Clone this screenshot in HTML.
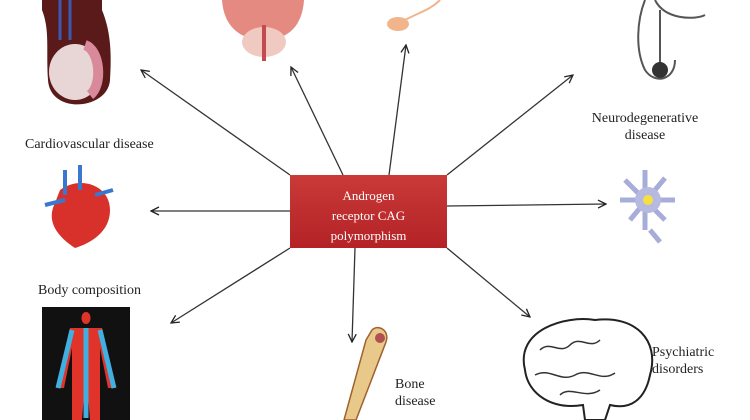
<!DOCTYPE html>
<html><head><style>
body{margin:0;background:#fff;width:750px;height:420px;overflow:hidden;font-family:"Liberation Serif",serif;}
.t{position:absolute;font-size:14px;color:#222;line-height:17px}
</style></head><body>
<svg width="750" height="420" style="position:absolute;left:0;top:0">
<defs><marker id="a" markerWidth="10" markerHeight="10" refX="9" refY="5" orient="auto" markerUnits="userSpaceOnUse"><path d="M1,1 L9,5 L1,9" fill="none" stroke="#222" stroke-width="1.3"/></marker>
<linearGradient id="g" x1="0" y1="0" x2="0" y2="1"><stop offset="0" stop-color="#c93a38"/><stop offset="1" stop-color="#b42226"/></linearGradient></defs>
<g stroke="#333" stroke-width="1.3" fill="none" marker-end="url(#a)">
<line x1="290" y1="175" x2="141" y2="70"/>
<line x1="343" y1="175" x2="291" y2="67"/>
<line x1="389" y1="175" x2="406" y2="45"/>
<line x1="447" y1="175" x2="573" y2="75"/>
<line x1="447" y1="206" x2="606" y2="204"/>
<line x1="290" y1="211" x2="151" y2="211"/>
<line x1="290" y1="248" x2="171" y2="323"/>
<line x1="355" y1="248" x2="352" y2="342"/>
<line x1="447" y1="248" x2="530" y2="317"/>
</g>
<rect x="290" y="175" width="157" height="73" fill="url(#g)"/>
<!-- testis -->
<path d="M42,0 h60 v10 c8,20 10,40 8,70 c-2,30 -60,35 -62,0 c-2,-30 2,-50 -6,-70z" fill="#5a1a1a"/>
<ellipse cx="75" cy="72" rx="26" ry="28" fill="#e8d6d6"/>
<path d="M85,45 c15,5 18,40 5,50" stroke="#d88a9a" stroke-width="10" fill="none"/>
<path d="M60,0 v40 M70,0 v40" stroke="#3a5ab0" stroke-width="3"/>
<!-- prostate -->
<path d="M222,0 h82 c-2,30 -20,40 -40,40 c-20,0 -40,-10 -42,-40z" fill="#e58a80"/>
<ellipse cx="264" cy="42" rx="22" ry="15" fill="#f0c9c0"/>
<rect x="262" y="25" width="4" height="36" fill="#c54a50"/>
<!-- sperm -->
<ellipse cx="398" cy="24" rx="11" ry="7" fill="#f2b48a"/>
<path d="M405,20 c15,-8 25,-10 35,-20" stroke="#f2b48a" stroke-width="2" fill="none"/>
<!-- pelvis drawing -->
<path d="M645,0 c-8,20 -10,50 0,70 c10,15 30,10 30,-10 M655,0 c10,20 40,20 50,15 M660,10 v60" stroke="#555" stroke-width="2" fill="none"/>
<circle cx="660" cy="70" r="8" fill="#333"/>
<!-- heart -->
<path d="M60,190 c20,-15 50,-5 50,20 c0,25 -25,35 -35,38 c-15,-10 -30,-25 -20,-45z" fill="#d8302a"/>
<path d="M65,170 v25 M80,165 v25 M45,205 l20,-5 M95,195 l18,-5" stroke="#3a78d0" stroke-width="4"/>
<!-- neuron -->
<path d="M645,170 l0,60 M620,200 h55 M625,180 l40,40 M665,178 l-35,42 M650,230 l10,12" stroke="#a8acd8" stroke-width="5"/>
<circle cx="648" cy="200" r="13" fill="#b6b9e0"/><circle cx="648" cy="200" r="5" fill="#f4e040"/>
<!-- body -->
<rect x="42" y="307" width="88" height="113" fill="#111"/>
<path d="M86,312 c6,0 6,12 0,12 c-6,0 -6,-12 0,-12z M70,328 h32 l14,60 h-8 l-8,-40 v72 h-10 l-4,-50 l-4,50 h-10 v-72 l-8,40 h-8z" fill="#e0332a"/>
<path d="M86,328 v90 M72,330 l-14,58 M100,330 l14,58" stroke="#40b0e0" stroke-width="5"/>
<!-- bone -->
<path d="M372,330 c6,-6 18,0 14,12 l-30,78 h-12 l22,-80z" fill="#e8c98a" stroke="#a06030" stroke-width="1.5"/>
<circle cx="380" cy="338" r="5" fill="#b05050"/>
<!-- brain -->
<path d="M525,370 c-10,-40 40,-55 70,-50 c40,-5 65,20 55,55 c-5,25 -20,35 -40,30 l-5,15 h-20 l-2,-15 c-30,5 -55,-10 -58,-35z" fill="#fff" stroke="#222" stroke-width="2"/>
<path d="M540,350 c10,-10 20,5 30,-5 c10,-10 20,5 30,-5 M535,375 c15,-8 25,8 40,0 c15,-8 25,8 40,-2 M560,395 c10,-10 25,5 40,-5" stroke="#333" stroke-width="1.5" fill="none"/>
</svg>
<div class="t" style="left:290px;top:186px;width:157px;text-align:center;color:#fff;font-size:13px;line-height:20px">Androgen<br>receptor CAG<br>polymorphism</div>
<div class="t" style="left:25px;top:136px">Cardiovascular disease</div>
<div class="t" style="left:38px;top:282px">Body composition</div>
<div class="t" style="left:590px;top:110px;width:110px;text-align:center">Neurodegenerative<br>disease</div>
<div class="t" style="left:395px;top:376px">Bone<br>disease</div>
<div class="t" style="left:652px;top:344px">Psychiatric<br>disorders</div>
</body></html>
